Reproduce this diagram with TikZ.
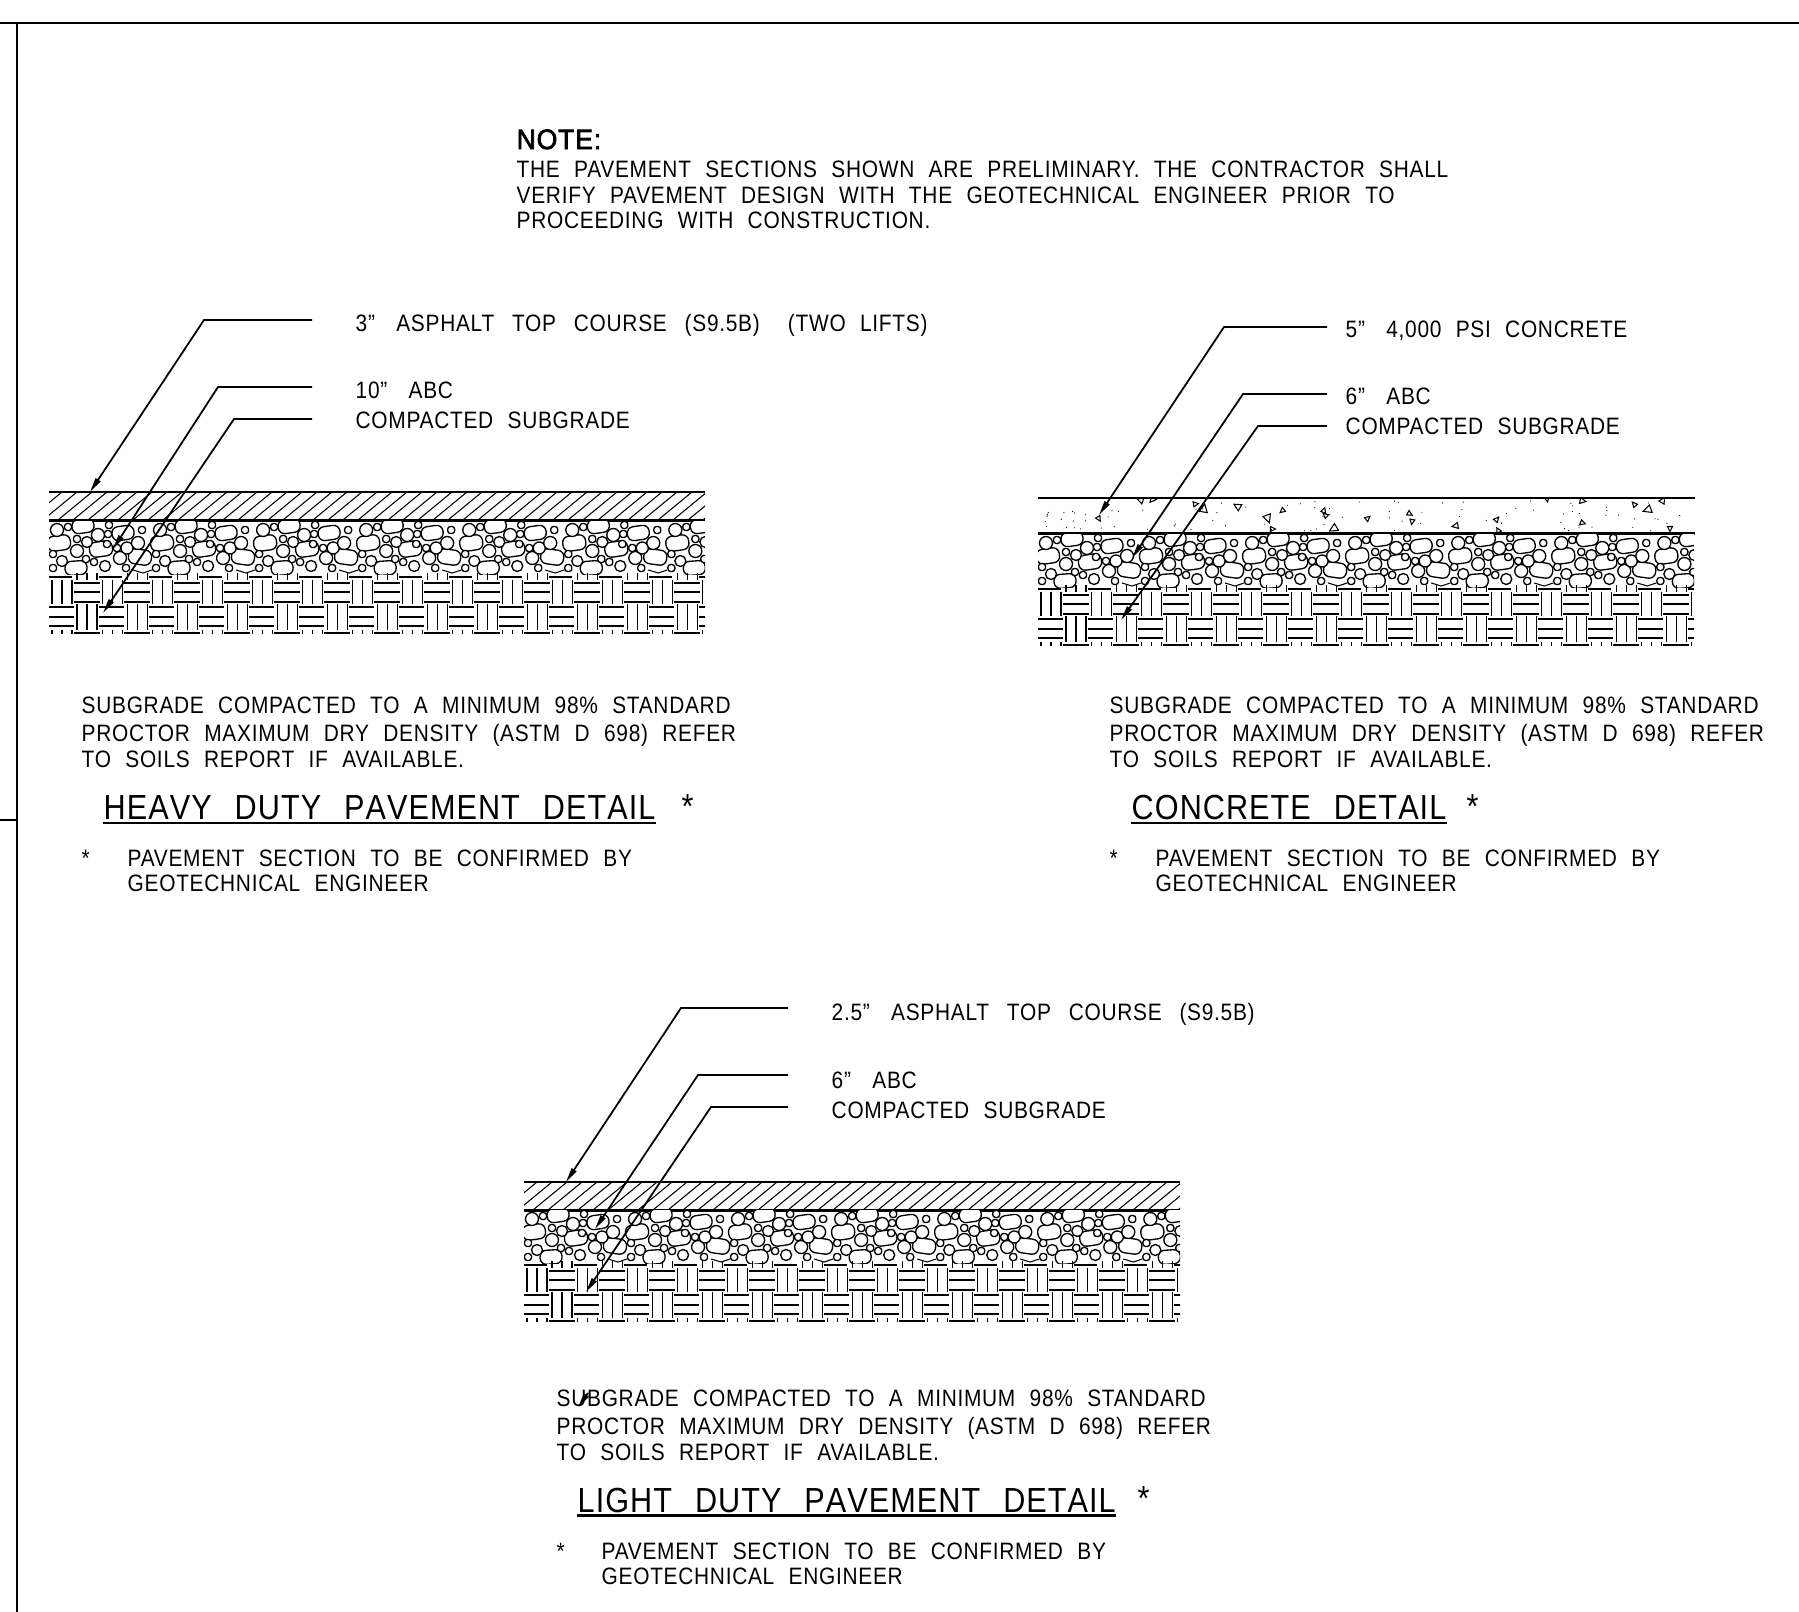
\documentclass[tikz,border=0pt]{standalone}
\usepackage{fontspec}
\setmainfont{Liberation Sans}[LetterSpace=3,WordSpace=2.2,FakeStretch=0.88]
\newfontfamily\notefont{Liberation Sans}[FakeBold=2.5,LetterSpace=3,FakeStretch=0.95]
\newfontfamily\titlefont{Liberation Sans}[LetterSpace=3,WordSpace=2.4,FakeStretch=0.88,Kerning=Off]
\usetikzlibrary{arrows.meta}

\tikzset{
  frame/.style={line width=0.6pt},
  layer/.style={line width=0.75pt},
  thin line/.style={line width=0.3pt},
  leader/.style={line width=0.5pt,-{Stealth[length=4.2pt,width=1.6pt,inset=0pt]}},
  rock/.style={line width=0.38pt,fill=white,rounded corners=1.8pt},
  chip/.style={line width=0.38pt,fill=white,rounded corners=0.8pt},
  pebble/.style={line width=0.38pt,fill=white},
  txt/.style={anchor=base west,inner sep=0pt,font=\fontsize{6.75}{8}\selectfont},
  heading/.style={anchor=base west,inner sep=0pt,font=\fontsize{9.9}{12}\selectfont\titlefont},
  notehead/.style={anchor=base west,inner sep=0pt,font=\fontsize{7.95}{10}\selectfont\notefont},
}

% the basket weave of the subgrade, #1,#2 = top left
\newcommand{\weaveband}[2]{
\begin{scope}[shift={(#1,#2)},thin line]
\clip (0,-5) rectangle (656,57);
\foreach \k in {0,...,13}{
  \begin{scope}[xshift=\k*0.5cm]
  \draw (0,0)--(23,0);
  \foreach \dx in {3,13,23}{
    \draw (\dx,2.5)--(\dx,27);
    \draw (25+\dx,-4)--(25+\dx,3);
    \draw (25+\dx,27)--(25+\dx,53);
    \draw (\dx,53)--(\dx,57);
  }
  \foreach \dy in {6,15,25}
    \draw (25,\dy)--(51,\dy);
  \foreach \dy in {30,40,49}
    \draw (0,\dy)--(25,\dy);
  \draw (25,56)--(51,56);
  \end{scope}
}
\end{scope}
}

% the crushed stone, repeats every 103 px
\newcommand{\rockband}[2]{
\begin{scope}[shift={(#1,#2)}]
\clip (0,0) rectangle (656,53);
\foreach \k in {0,...,6}{
  \begin{scope}[xshift=\k*1.03cm]
  % lumps along the bottom
  \draw[thin line] (84,49) -- (94,52) -- (103,49);
  % big stones
  \foreach \cx/\cy/\rx/\ry/\rot in {34/5/11/7/8,10/22/11.5/7.5/8,52/28/11.5/7.5/8,74/12/11/7/8,91/36/11.5/7.5/-8,27/47/11/7/4}
    \draw[rock,rotate around={\rot:(\cx,\cy)}] (\cx-\rx,\cy-\ry) rectangle (\cx+\rx,\cy+\ry);
  % round stones
  \foreach \cx/\cy/\rr in {8/9/6.5,49/14/6.5,28/30/6.5,13/40/5.5,38/21/5.5,71/37/6.5,56/45/5.5,78/27/6,89/22/6.5}
    \draw[pebble] (\cx,\cy) circle[radius=\rr];
  % small square stones
  \foreach \cx/\cy in {19/6,28/18,59/13,58/23,37/38,45/41,4/33,4/47,60/4,93/9,77/47,68/27}
    \draw[chip] (\cx-3.5,\cy-3.5) rectangle (\cx+3.5,\cy+3.5);
  \end{scope}
}
\end{scope}
}

% hatched asphalt course, #1,#2 = top left
\newcommand{\hatchband}[2]{
\begin{scope}[shift={(#1,#2)}]
\begin{scope}
\clip (0,0) rectangle (656,28);
\foreach \hx in {-36,-21,...,660}
  \draw[thin line] (\hx,28)--(\hx+34,0);
\end{scope}
\draw[layer] (0,0)--(656,0);
\draw[layer] (0,28.5)--(656,28.5);
\end{scope}
}

\begin{document}
\begin{tikzpicture}[x=0.01cm,y=-0.01cm]
\useasboundingbox (0,0) rectangle (1799,1612);
% sheet border
\draw[frame] (0,23)--(1799,23);
\draw[frame] (17,23)--(17,1612);
\draw[frame] (0,820)--(17,820);
% general note
\node[notehead] (notehead) at (516,149) {NOTE:};
\node[txt] (noteone) at (516,177) {THE PAVEMENT SECTIONS SHOWN ARE PRELIMINARY. THE CONTRACTOR SHALL};
\node[txt] (notetwo) at (516,203) {VERIFY PAVEMENT DESIGN WITH THE GEOTECHNICAL ENGINEER PRIOR TO};
\node[txt] (notethree) at (516,228) {PROCEEDING WITH CONSTRUCTION.};

% heavy duty
\hatchband{49}{492}
\rockband{49}{521}
\weaveband{49}{577}
\node[txt] (heavytop) at (355,331) {3”\hspace{2pt} ASPHALT\hspace{1pt} TOP\hspace{1pt} COURSE\hspace{1pt} (S9.5B)\hspace{8pt}(TWO LIFTS)};
\node[txt] (heavyabc) at (355,398) {10”\hspace{2pt} ABC};
\node[txt] (heavysub) at (355,428) {COMPACTED SUBGRADE};
\coordinate (heavytopstart) at (312,320);
\coordinate (heavytopbend) at (204,320);
\coordinate (heavytoptip) at (90,492);
\coordinate (heavyabcstart) at (312,387);
\coordinate (heavyabcbend) at (218,387);
\coordinate (heavyabctip) at (113,549);
\coordinate (heavysubstart) at (312,419);
\coordinate (heavysubbend) at (234,419);
\coordinate (heavysubtip) at (103,613);
\draw[leader] (heavytopstart)--(heavytopbend)--(heavytoptip);
\draw[leader] (heavyabcstart)--(heavyabcbend)--(heavyabctip);
\draw[leader] (heavysubstart)--(heavysubbend)--(heavysubtip);
\node[txt] (heavyspecone) at (81,713.5) {SUBGRADE COMPACTED TO A MINIMUM 98\% STANDARD};
\node[txt] (heavyspectwo) at (81,741.5) {PROCTOR MAXIMUM DRY DENSITY (ASTM D 698) REFER};
\node[txt] (heavyspecthree) at (81,767.5) {TO SOILS REPORT IF AVAILABLE.};
\node[heading] (heavytitle) at (103,819.5) {HEAVY DUTY PAVEMENT DETAIL};
\draw[frame] ([yshift=-0.7pt]heavytitle.south west)--([yshift=-0.7pt]heavytitle.south east);
\node[heading] (heavystar) at (681,818) {*};
\node[txt] (heavymark) at (81,866.5) {*};
\node[txt] (heavyconfirm) at (127,866.5) {PAVEMENT SECTION TO BE CONFIRMED BY};
\node[txt] (heavygeo) at (127,891.5) {GEOTECHNICAL ENGINEER};

% concrete
\begin{scope}
\clip (1038,498) rectangle (1695,533);
\pgfmathsetseed{23}
\foreach \i in {1,...,95}{
  \pgfmathsetmacro{\sx}{1040+652*rnd}
  \pgfmathsetmacro{\sy}{501+30*rnd}
  \fill (\sx,\sy) circle[radius=0.6];
}
\foreach \tx/\ty/\ts [count=\n] in {1140/500/3,1152/500/3,1099/519/2.5,1196/504/2.5,1204/508/4,1237/506/3.5,1282/511/2.5,1268/519/4,1273/529/2.5,1324/510/2.5,1325/515/2.5,1333/529/4,1547/499/3,1583/501/3,1663/500/3,1634/504/2.5,1647/510/4,1670/529/2.5,1583/523/2.5,1497/519/2.5,1498/530/2.5,1455/526/3,1412/522/2.5,1410/514/2.5,1368/518/2.5}
  \draw[thin line,rotate around={70*\n:(\tx,\ty)}] (\tx-\ts,\ty+\ts)--(\tx+\ts,\ty+\ts)--(\tx,\ty-\ts)--cycle;
\end{scope}
\draw[layer] (1038,498)--(1695,498);
\draw[layer] (1038,533.5)--(1695,533.5);
\rockband{1038}{534}
\weaveband{1038}{589}
\node[txt] (concretetop) at (1345,337) {5”\hspace{2pt} 4,000 PSI CONCRETE};
\node[txt] (concreteabc) at (1345,404) {6”\hspace{2pt} ABC};
\node[txt] (concretesub) at (1345,434) {COMPACTED SUBGRADE};
\coordinate (concretetopstart) at (1327,327);
\coordinate (concretetopbend) at (1224,327);
\coordinate (concretetoptip) at (1099,515);
\coordinate (concreteabcstart) at (1327,394);
\coordinate (concreteabcbend) at (1243,394);
\coordinate (concreteabctip) at (1132,558);
\coordinate (concretesubstart) at (1327,426);
\coordinate (concretesubbend) at (1258,426);
\coordinate (concretesubtip) at (1121,620);
\draw[leader] (concretetopstart)--(concretetopbend)--(concretetoptip);
\draw[leader] (concreteabcstart)--(concreteabcbend)--(concreteabctip);
\draw[leader] (concretesubstart)--(concretesubbend)--(concretesubtip);
\node[txt] (concretespecone) at (1109,713.5) {SUBGRADE COMPACTED TO A MINIMUM 98\% STANDARD};
\node[txt] (concretespectwo) at (1109,741.5) {PROCTOR MAXIMUM DRY DENSITY (ASTM D 698) REFER};
\node[txt] (concretespecthree) at (1109,767.5) {TO SOILS REPORT IF AVAILABLE.};
\node[heading] (concretetitle) at (1131,819.5) {CONCRETE DETAIL};
\draw[frame] ([yshift=-0.7pt]concretetitle.south west)--([yshift=-0.7pt]concretetitle.south east);
\node[heading] (concretestar) at (1466,818) {*};
\node[txt] (concretemark) at (1109,866.5) {*};
\node[txt] (concreteconfirm) at (1155,866.5) {PAVEMENT SECTION TO BE CONFIRMED BY};
\node[txt] (concretegeo) at (1155,891.5) {GEOTECHNICAL ENGINEER};

% light duty
\hatchband{524}{1182}
\rockband{524}{1210}
\weaveband{524}{1265}
\node[txt] (lighttop) at (831,1020) {2.5”\hspace{2pt} ASPHALT\hspace{1pt} TOP\hspace{1pt} COURSE\hspace{1pt} (S9.5B)};
\node[txt] (lightabc) at (831,1088) {6”\hspace{2pt} ABC};
\node[txt] (lightsub) at (831,1118) {COMPACTED SUBGRADE};
\coordinate (lighttopstart) at (788,1008);
\coordinate (lighttopbend) at (681,1008);
\coordinate (lighttoptip) at (566,1182);
\coordinate (lightabcstart) at (788,1075);
\coordinate (lightabcbend) at (698,1075);
\coordinate (lightabctip) at (595,1229);
\coordinate (lightsubstart) at (788,1107);
\coordinate (lightsubbend) at (711,1107);
\coordinate (lightsubtip) at (586,1292);
\draw[leader] (lighttopstart)--(lighttopbend)--(lighttoptip);
\draw[leader] (lightabcstart)--(lightabcbend)--(lightabctip);
\draw[leader] (lightsubstart)--(lightsubbend)--(lightsubtip);
\node[txt] (lightspecone) at (556,1406) {SUBGRADE COMPACTED TO A MINIMUM 98\% STANDARD};
\node[txt] (lightspectwo) at (556,1434) {PROCTOR MAXIMUM DRY DENSITY (ASTM D 698) REFER};
\node[txt] (lightspecthree) at (556,1460) {TO SOILS REPORT IF AVAILABLE.};
\coordinate (straystart) at (588,1393);
\coordinate (straytip) at (578,1407);
\draw[leader] (straystart)--(straytip);
\node[heading] (lighttitle) at (577,1512) {LIGHT DUTY PAVEMENT DETAIL};
\draw[frame] ([yshift=-0.7pt]lighttitle.south west)--([yshift=-0.7pt]lighttitle.south east);
\node[heading] (lightstar) at (1137,1510.5) {*};
\node[txt] (lightmark) at (556,1559) {*};
\node[txt] (lightconfirm) at (601,1559) {PAVEMENT SECTION TO BE CONFIRMED BY};
\node[txt] (lightgeo) at (601,1584) {GEOTECHNICAL ENGINEER};
\end{tikzpicture}
\end{document}
